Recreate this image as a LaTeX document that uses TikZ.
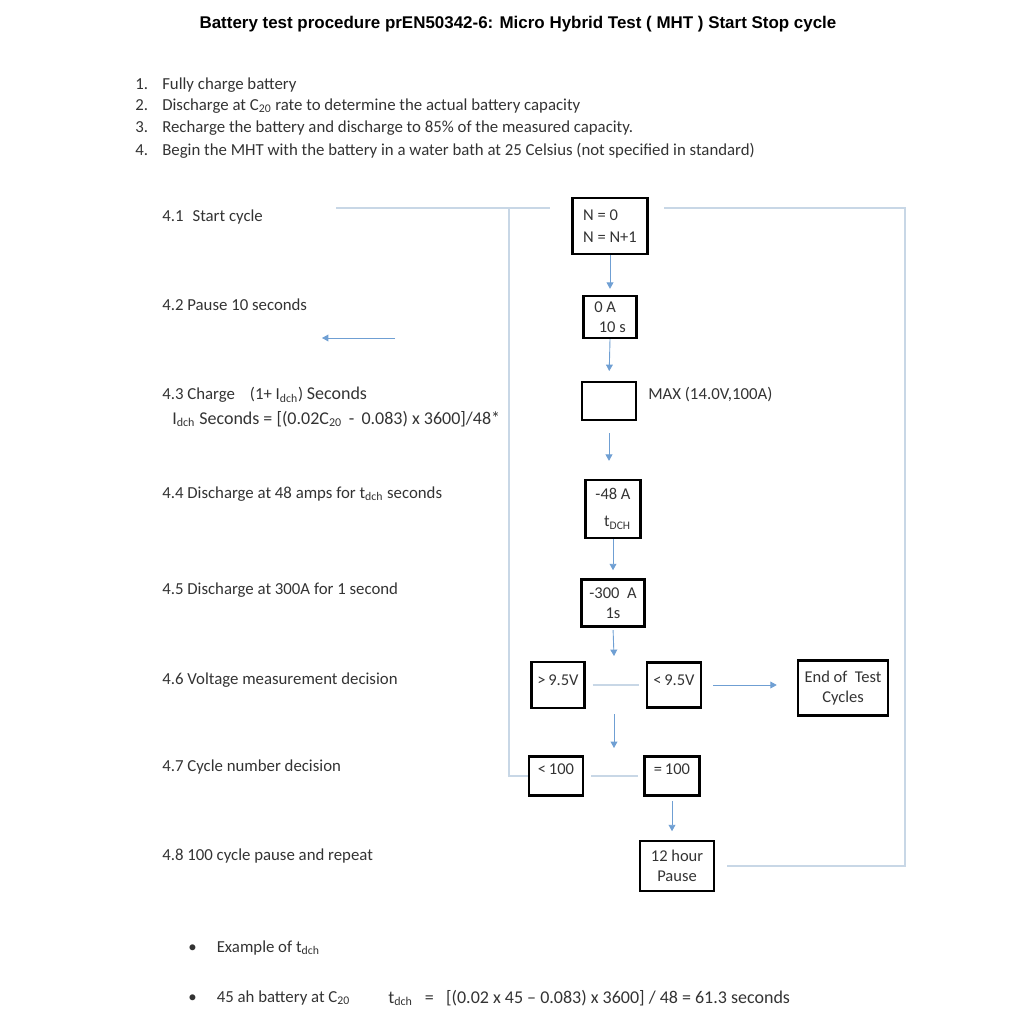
\documentclass[tikz,border=0pt]{standalone}
\usepackage{fontspec}
\setmainfont{Carlito}
\newfontfamily\titlefont{Liberation Sans}
\usetikzlibrary{arrows.meta}
\definecolor{arrowblue}{HTML}{6F9FD3}
\definecolor{lineblue}{HTML}{C8D7E6}
\definecolor{textgray}{HTML}{333333}
\tikzset{
  title/.style={font=\titlefont\bfseries\fontsize{11.3}{13}\selectfont,text=black},
  body/.style={font=\fontsize{11.2}{13}\selectfont,text=textgray,anchor=west,inner sep=0pt},
  big/.style={font=\fontsize{12}{14}\selectfont,text=textgray,anchor=west,inner sep=0pt},
  box/.style={draw=black,line width=1.6pt,font=\fontsize{11}{13}\selectfont,text=textgray,align=center,inner sep=1pt},
  arr/.style={-{Triangle[length=1.5mm,width=1.6mm]},draw=arrowblue,line width=0.6pt},
  loopline/.style={draw=lineblue,line width=0.8pt}
}

\begin{document}
\begin{tikzpicture}[x=0.234375mm,y=-0.234375mm]
\path[use as bounding box] (0,0) rectangle (1024,1024);
\node[title] (hd) at (518,24) {Battery test procedure prEN50342-6: Micro Hybrid Test ( MHT ) Start Stop cycle};
\node[body] (st1) at (135,85) {\makebox[18pt][l]{1.}Fully charge battery};
\node[body] (st2) at (135,106) {\makebox[18pt][l]{2.}Discharge at C\textsubscript{20} rate to determine the actual battery capacity};
\node[body] (st3) at (135,128) {\makebox[18pt][l]{3.}Recharge the battery and discharge to 85\% of the measured capacity.};
\node[body] (st4) at (135,151) {\makebox[18pt][l]{4.}Begin the MHT with the battery in a water bath at 25 Celsius (not specified in standard)};
\node[body] (l41) at (162,217) {4.1\hspace{6pt}Start cycle};
\node[body] (l42) at (162,305) {4.2 Pause 10 seconds};
\node[body] (l43) at (162,395) {4.3 Charge\hspace{10pt}(1+ I\textsubscript{dch}) {\fontsize{12}{14}\selectfont Seconds}};
\node[big] (l43b) at (172,419) {I\textsubscript{dch} Seconds = [(0.02C\textsubscript{20}\,\ -\ \,0.083) x 3600]/48*};
\node[body] (l44) at (162,494) {4.4 Discharge at 48 amps for t\textsubscript{dch} seconds};
\node[body] (l45) at (162,590) {4.5 Discharge at 300A for 1 second};
\node[body] (l46) at (162,680) {4.6 Voltage measurement decision};
\node[body] (l47) at (162,767) {4.7 Cycle number decision};
\node[body] (l48) at (162,856) {4.8 100 cycle pause and repeat};
\node[box,minimum width=50pt,minimum height=37.4pt,align=left] (nset) at (610,226) {N = 0\\[2pt]N = N+1};
\node[box,minimum width=35.4pt,minimum height=28pt,align=left] (pause) at (610,317) {0 A\\\hspace{3pt}10 s};
\node[box,minimum width=36pt,minimum height=25.3pt] (charge) at (609,401) {};
\node[body] (maxlbl) at (648,395) {MAX (14.0V,100A)};
\node[box,minimum width=36.7pt,minimum height=38.7pt] (dis48) at (613,509) {-48 A\\[5pt]\hspace{6pt}t\textsubscript{DCH}};
\node[box,minimum width=42pt,minimum height=31.3pt] (dis300) at (613,603) {-300\ \ A\\1s};
\node[box,minimum width=35.4pt,minimum height=30.7pt,text depth=6pt] (hiv) at (558,685) {>\,9.5V};
\node[box,minimum width=36pt,minimum height=30pt,text depth=6pt] (lov) at (674,685) {<\,9.5V};
\node[box,minimum width=60pt,minimum height=36.7pt] (endt) at (843,688) {End of\ \ Test\\Cycles};
\node[box,minimum width=36pt,minimum height=26pt,text depth=9pt] (lt100) at (556,776) {<\,100};
\node[box,minimum width=36.7pt,minimum height=26pt,text depth=9pt] (eq100) at (672,776) {=\,100};
\node[box,minimum width=49.4pt,minimum height=33.4pt] (rest) at (677,866) {12 hour\\Pause};
\node[body] (ex1) at (188,948) {\makebox[19pt][l]{\textbullet}Example of t\textsubscript{dch}};
\node[body] (ex2) at (188,998) {\makebox[19pt][l]{\textbullet}45 ah battery at C\textsubscript{20}};
\node[big] (ex2f) at (388,998) {t\textsubscript{dch}\ \ \ =\ \ \ [(0.02 x 45 -- 0.083) x 3600] / 48 = 61.3 seconds};
\coordinate (sa) at (395,338); \coordinate (sb) at (322,338);
\coordinate (ls) at (336,208); \coordinate (lc) at (509,208); \coordinate (rc) at (905,208);
\coordinate (d1) at (614,656); \coordinate (d2) at (614,714); \coordinate (d3) at (614,748);
\draw[arr] (sa)--(sb);
\draw[arr,shorten >=1.4mm] (nset.south)--(pause.north); \draw[arr,shorten >=2.3mm] (pause.south)--(charge.north);
\draw[arr,shorten <=2.8mm,shorten >=4.2mm] (charge.south)--(charge.south |- dis48.north); \draw[arr,shorten >=1.9mm] (dis48.south)--(dis300.north);
\draw[arr,shorten <=0.6mm] (dis300.south)--(d1); \draw[arr] (d2)--(d3);
\draw[loopline,shorten <=1.6mm,shorten >=1.6mm] (hiv)--(lov); \draw[arr,shorten <=2.6mm,shorten >=4.7mm] (lov.east)--(lov.east -| endt.west);
\draw[loopline,shorten <=1.6mm,shorten >=1.3mm] (lt100)--(eq100); \draw[arr,shorten <=1mm,shorten >=2mm] (eq100.south)--(eq100.south |- rest.north);
\draw[loopline] (lt100.west)-|(lc); \draw[loopline,shorten >=4.9mm] (ls)--(ls -| nset.west);
\draw[loopline,shorten <=2.8mm,shorten >=3.7mm] (rest.east)-|(rc)--(rc -| nset.east);
\end{tikzpicture}
\end{document}
